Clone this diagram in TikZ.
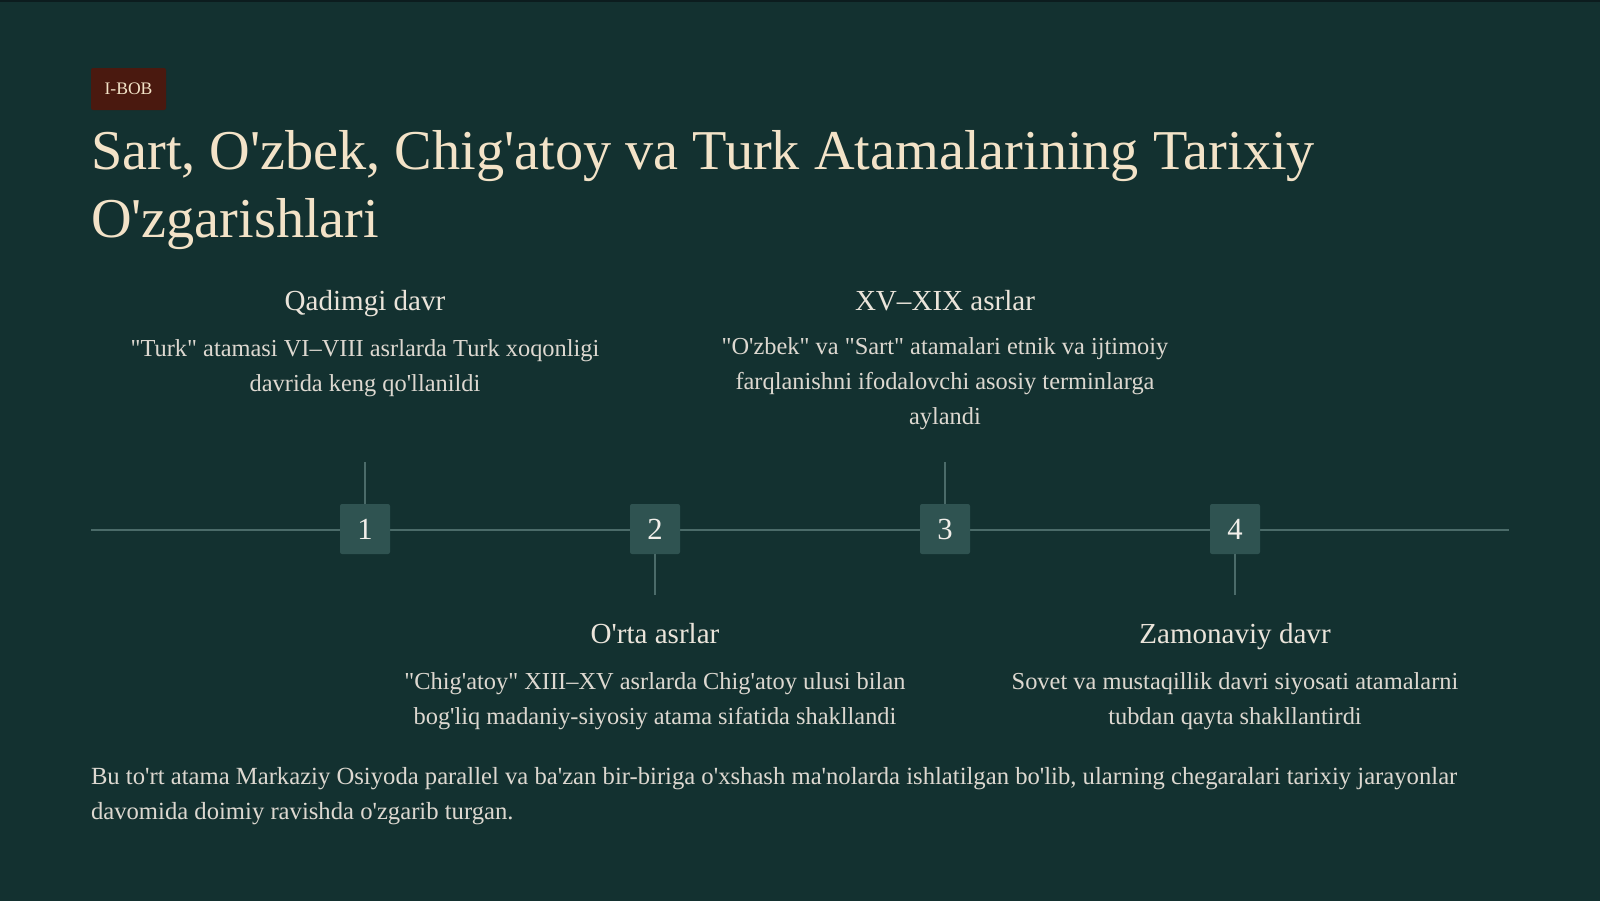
\documentclass[tikz,border=0pt]{standalone}
\usepackage{fontspec}
\setmainfont{Liberation Serif}[Ligatures=TeXOff]

\definecolor{bgcol}{HTML}{133130}
\definecolor{topedge}{HTML}{0C1C1E}
\definecolor{badgered}{HTML}{4A190F}
\definecolor{cream}{HTML}{F3E3C8}
\definecolor{boxteal}{HTML}{2F5351}
\definecolor{linecol}{HTML}{4B6B69}
\definecolor{headcol}{HTML}{EAE4DA}
\definecolor{desccol}{HTML}{DDD8D0}
\definecolor{numwhite}{HTML}{F2EFEA}

\begin{document}
\begin{tikzpicture}[y=0.75pt, x=0.75pt, yscale=-1.000000, xscale=1.000000, inner sep=0pt, outer sep=0pt,
  chapterbadge/.style={fill=badgered, text=cream, minimum width=56.25pt, minimum height=31.5pt, rounded corners=1.5pt, font=\fontsize{13.2}{15}\selectfont},
  numbox/.style={fill=boxteal, text=numwhite, minimum size=37.5pt, rounded corners=1.5pt, font=\fontsize{23}{27}\selectfont},
  periodhead/.style={anchor=base, text=headcol, font=\fontsize{21.8}{25}\selectfont},
  perioddesc/.style={anchor=north, align=center, text=desccol, font=\fontsize{18.3}{26.25}\selectfont},
  axisline/.style={draw=linecol, line width=1.5pt}]

  \useasboundingbox (0,0) rectangle (1600,901);
  \path[fill=bgcol] (0,0) rectangle (1600,901);
  \path[fill=topedge] (0,0) rectangle (1600,2);

  % header
  \path (128.5,89) node[chapterbadge] (badge) {I-BOB};
  \path (91,130) node[anchor=north west, align=left, text=cream, font=\fontsize{42.2}{51}\selectfont] (title) {Sart, O'zbek, Chig'atoy va Turk Atamalarining Tarixiy\\O'zgarishlari};

  % timeline axis
  \coordinate (axisstart) at (91,530);
  \coordinate (axisend) at (1509,530);
  \path[axisline] (axisstart) -- (axisend);

  \path (365,529) node[numbox] (box1) {1};
  \path (655,529) node[numbox] (box2) {2};
  \path (945,529) node[numbox] (box3) {3};
  \path (1235,529) node[numbox] (box4) {4};

  % ticks
  \coordinate (tick1) at (365,462);
  \coordinate (tick2) at (655,595);
  \coordinate (tick3) at (945,462);
  \coordinate (tick4) at (1235,595);
  \path[axisline] (box1.north) -- (tick1);
  \path[axisline] (box2.south) -- (tick2);
  \path[axisline] (box3.north) -- (tick3);
  \path[axisline] (box4.south) -- (tick4);

  % upper periods
  \path (365,310) node[periodhead] (head1) {Qadimgi davr};
  \path (365,340) node[perioddesc] (desc1) {"Turk" atamasi VI–VIII asrlarda Turk xoqonligi\\davrida keng qo'llanildi};
  \path (945,310) node[periodhead] (head3) {XV–XIX asrlar};
  \path (945,338) node[perioddesc] (desc3) {"O'zbek" va "Sart" atamalari etnik va ijtimoiy\\farqlanishni ifodalovchi asosiy terminlarga\\aylandi};

  % lower periods
  \path (655,643) node[periodhead] (head2) {O'rta asrlar};
  \path (655,673) node[perioddesc] (desc2) {"Chig'atoy" XIII–XV asrlarda Chig'atoy ulusi bilan\\bog'liq madaniy-siyosiy atama sifatida shakllandi};
  \path (1235,643) node[periodhead] (head4) {Zamonaviy davr};
  \path (1235,673) node[perioddesc] (desc4) {Sovet va mustaqillik davri siyosati atamalarni\\tubdan qayta shakllantirdi};

  % summary
  \path (91,767) node[anchor=north west, align=left, text=desccol, font=\fontsize{18.5}{26.25}\selectfont] (summary) {Bu to'rt atama Markaziy Osiyoda parallel va ba'zan bir-biriga o'xshash ma'nolarda ishlatilgan bo'lib, ularning chegaralari tarixiy jarayonlar\\davomida doimiy ravishda o'zgarib turgan.};

\end{tikzpicture}
\end{document}
